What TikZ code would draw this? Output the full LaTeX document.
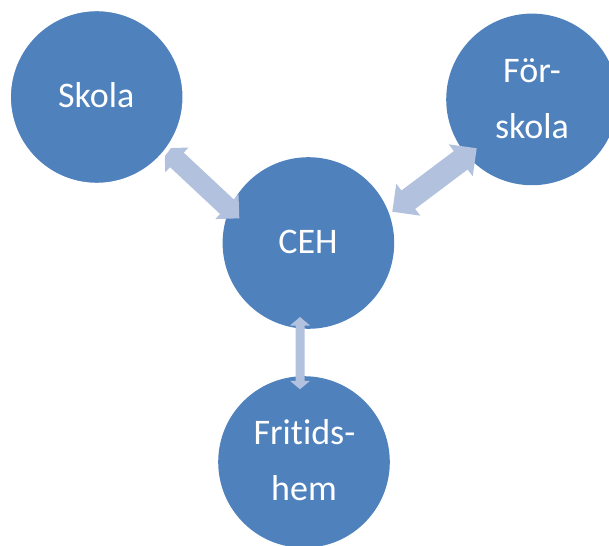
\documentclass[tikz,border=0pt]{standalone}
\usepackage{fontspec}
\setmainfont{Carlito}[Ligatures=NoCommon]
\usetikzlibrary{calc}
\pgfdeclarelayer{front}
\pgfsetlayers{main,front}
\definecolor{circ}{HTML}{4F81BD}
\definecolor{arr}{HTML}{B2C1DE}
\tikzset{
  bubble/.style={circle, fill=circ, inner sep=0pt, outer sep=0pt, minimum size=171.6pt},
  lbl/.style={text=white, inner sep=0pt, font=\fontsize{36pt}{43pt}\selectfont},
  arrowfill/.style={fill=arr},
}
\newcommand\mydblarr[5]{%
  \fill[arrowfill] (#1)
   -- ($(#1)!#5!(#2)!#4!90:(#2)$)
   -- ($(#1)!#5!(#2)!#3!90:(#2)$)
   -- ($(#2)!#5!(#1)!#3!-90:(#1)$)
   -- ($(#2)!#5!(#1)!#4!-90:(#1)$)
   -- (#2)
   -- ($(#2)!#5!(#1)!#4!90:(#1)$)
   -- ($(#2)!#5!(#1)!#3!90:(#1)$)
   -- ($(#1)!#5!(#2)!#3!-90:(#2)$)
   -- ($(#1)!#5!(#2)!#4!-90:(#2)$)
   -- cycle;}
\begin{document}
\begin{tikzpicture}[x=1pt, y=-1pt]
\useasboundingbox (0,0) rectangle (609,545);
% circles
\node[bubble] (ceh) at (308.4,243) {};
\node[bubble] (forskola) at (532,99.4) {};
\node[bubble] (fritids) at (304,462) {};
\begin{pgfonlayer}{front}
\node[bubble, draw=white, line width=4.2pt, minimum size=175.8pt] (skola) at (96.7,97) {};
\node[lbl, anchor=base] (skolaT) at (96.3,107.7) {Skola};
\end{pgfonlayer}
% labels
\node[lbl, anchor=base] (cehT) at (308,253.7) {CEH};
\node[lbl, anchor=base] (forT1) at (532,82.4) {För-};
\node[lbl, anchor=base] (forT2) at (532,139) {skola};
\node[lbl, anchor=base] (friT1) at (304.5,444.9) {Fritids-};
\node[lbl, anchor=base] (friT2) at (304,500.5) {hem};
% arrow end points
\coordinate (a1s) at ($(skola)+(67.8,51.3)$);
\coordinate (a1e) at ($(ceh)+(-69.1,-24.7)$);
\coordinate (a2s) at ($(ceh)+(83.9,-31.3)$);
\coordinate (a2e) at ($(forskola)+(-55.3,48.9)$);
\coordinate (a3s) at ($(ceh)+(-8.4,74)$);
\coordinate (a3e) at ($(fritids)+(-4,-72.7)$);
% arrows
\mydblarr{a1s}{a1e}{10pt}{17pt}{17pt}
\mydblarr{a2s}{a2e}{11.5pt}{20pt}{20pt}
\mydblarr{a3s}{a3e}{4.5pt}{10pt}{8.5pt}
\end{tikzpicture}
\end{document}
